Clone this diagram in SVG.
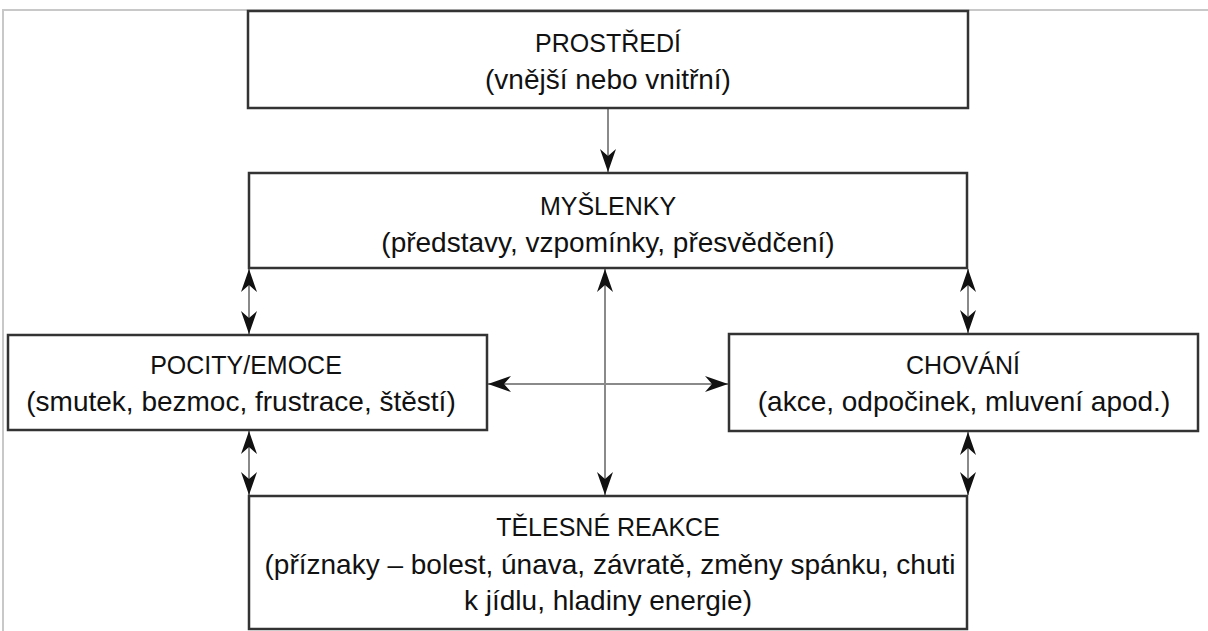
<svg xmlns="http://www.w3.org/2000/svg" width="1208" height="631" viewBox="0 0 1208 631">
  <style>
    .box { fill: #ffffff; stroke: #333333; stroke-width: 2.5; }
    .frame { stroke: #c8c8c8; stroke-width: 2; fill: none; }
    .link { stroke: #8a8a8a; stroke-width: 2; fill: none; }
    .t { font-family: "Liberation Sans", Arial, sans-serif; font-size: 25px; fill: #111111; text-anchor: middle; }
    .s { font-size: 28px; }
  </style>
  <defs>
    <marker id="head" viewBox="-25 -10 27 20" refX="0" refY="0" markerWidth="27" markerHeight="20" markerUnits="userSpaceOnUse" orient="auto-start-reverse">
      <path d="M0,0 L-23,-8 L-16,0 L-23,8 Z" fill="#111111"/>
    </marker>
  </defs>

  <rect x="0" y="0" width="1208" height="631" fill="#ffffff"/>
  <!-- outer frame lines -->
  <path class="frame" d="M3,631 V10 H1208"/>

  <!-- connectors -->
  <g id="connectors">
    <line class="link" x1="608" y1="108" x2="608" y2="172" marker-end="url(#head)"/>
    <line class="link" x1="249" y1="269" x2="249" y2="334" marker-start="url(#head)" marker-end="url(#head)"/>
    <line class="link" x1="968" y1="269" x2="968" y2="333" marker-start="url(#head)" marker-end="url(#head)"/>
    <line class="link" x1="249" y1="431" x2="249" y2="495" marker-start="url(#head)" marker-end="url(#head)"/>
    <line class="link" x1="968" y1="432" x2="968" y2="495" marker-start="url(#head)" marker-end="url(#head)"/>
    <line class="link" x1="605" y1="269" x2="605" y2="495" marker-start="url(#head)" marker-end="url(#head)"/>
    <line class="link" x1="488" y1="384" x2="728" y2="384" marker-start="url(#head)" marker-end="url(#head)"/>
  </g>

  <g id="prostredi">
    <rect class="box" x="248" y="11" width="720" height="97"/>
    <text class="t" x="608" y="52">PROSTŘEDÍ</text>
    <text class="t s" x="608" y="89">(vnější nebo vnitřní)</text>
  </g>

  <g id="myslenky">
    <rect class="box" x="249" y="173" width="718" height="95"/>
    <text class="t" x="608" y="215">MYŠLENKY</text>
    <text class="t s" x="608" y="252">(představy, vzpomínky, přesvědčení)</text>
  </g>

  <g id="pocity">
    <rect class="box" x="8" y="335" width="479" height="95"/>
    <text class="t" x="246" y="374">POCITY/EMOCE</text>
    <text class="t s" x="241" y="411">(smutek, bezmoc, frustrace, štěstí)</text>
  </g>

  <g id="chovani">
    <rect class="box" x="729" y="334" width="469" height="97"/>
    <text class="t" x="963" y="374">CHOVÁNÍ</text>
    <text class="t s" x="964" y="411">(akce, odpočinek, mluvení apod.)</text>
  </g>

  <g id="telesne">
    <rect class="box" x="249" y="496" width="718" height="133"/>
    <text class="t" x="608" y="536">TĚLESNÉ REAKCE</text>
    <text class="t s" x="610" y="574">(příznaky – bolest, únava, závratě, změny spánku, chuti</text>
    <text class="t s" x="608" y="610">k jídlu, hladiny energie)</text>
  </g>
</svg>
